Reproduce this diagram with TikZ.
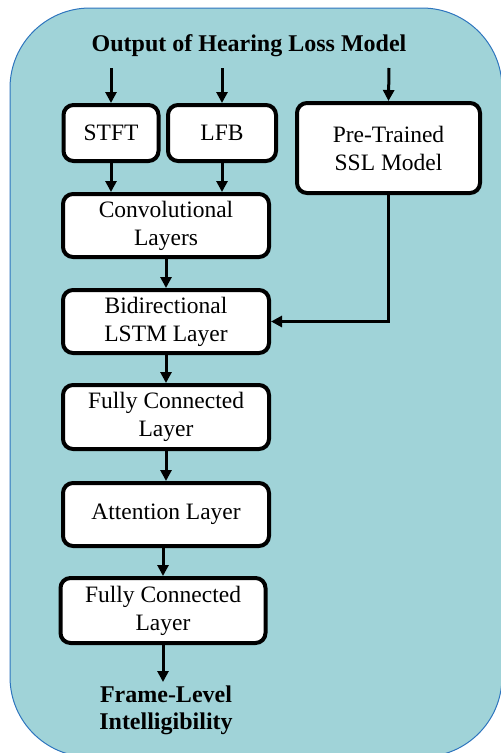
\documentclass[tikz,border=0pt]{standalone}
\usepackage{fontspec}
\setmainfont{Liberation Serif}
\usetikzlibrary{arrows.meta}
\begin{document}
\begin{tikzpicture}[x=1pt, y=-1pt,
  layer/.style={draw, line width=4pt, rounded corners=10pt, fill=white, align=center,
    inner sep=0pt, font=\fontsize{23.5}{28}\selectfont},
  arr/.style={line width=3pt, -{Triangle[length=11pt, width=11pt]}},
  label/.style={align=center, font=\fontsize{24}{27}\selectfont\bfseries}]
\useasboundingbox (0,0) rectangle (501,753);
\definecolor{bg}{RGB}{160,211,216}
\definecolor{edge}{RGB}{46,117,190}
\filldraw[fill=bg, draw=edge, line width=1pt, rounded corners=80pt] (10,8) rectangle (502,757);
% inputs
\node[label] (title) at (249,46) {Output of Hearing Loss Model};
\node[layer, minimum width=95pt, minimum height=56pt] (stft) at (111,133) {STFT};
\node[layer, minimum width=108pt, minimum height=56pt] (lfb) at (222,133) {LFB};
\node[layer, minimum width=183pt, minimum height=90pt] (ssl) at (388.5,148) {Pre-Trained\\SSL Model};
\coordinate (in1) at (111,68);
\coordinate (in2) at (222,68);
\coordinate (in3) at (389,68);
% main stack
\node[layer, minimum width=206pt, minimum height=63pt] (conv) at (166,225.5) {Convolutional\\Layers};
\node[layer, minimum width=206pt, minimum height=63pt] (lstm) at (166,321.5) {Bidirectional\\LSTM Layer};
\node[layer, minimum width=206pt, minimum height=64pt] (fc1) at (166,417) {Fully Connected\\Layer};
\node[layer, minimum width=206pt, minimum height=63pt] (att) at (166,514.5) {Attention Layer};
\node[layer, minimum width=205pt, minimum height=65pt] (fc2) at (163,610.5) {Fully Connected\\Layer};
\node[label] (out) at (166,710) {Frame-Level\\Intelligibility};
% connectors
\draw[arr] (in1) -- (stft.north);
\draw[arr] (in2) -- (lfb.north);
\draw[arr] (in3) -- (ssl.north);
\draw[arr] (stft.south) -- (stft.south |- conv.north);
\draw[arr] (lfb.south) -- (lfb.south |- conv.north);
\draw[arr] (conv.south) -- (lstm.north);
\draw[arr] (ssl.south) |- (lstm.east);
\draw[arr] (lstm.south) -- (fc1.north);
\draw[arr] (fc1.south) -- (att.north);
\draw[arr] (fc2.north |- att.south) -- (fc2.north);
\draw[arr] (fc2.south) -- (fc2.south |- out.north);
\end{tikzpicture}
\end{document}
